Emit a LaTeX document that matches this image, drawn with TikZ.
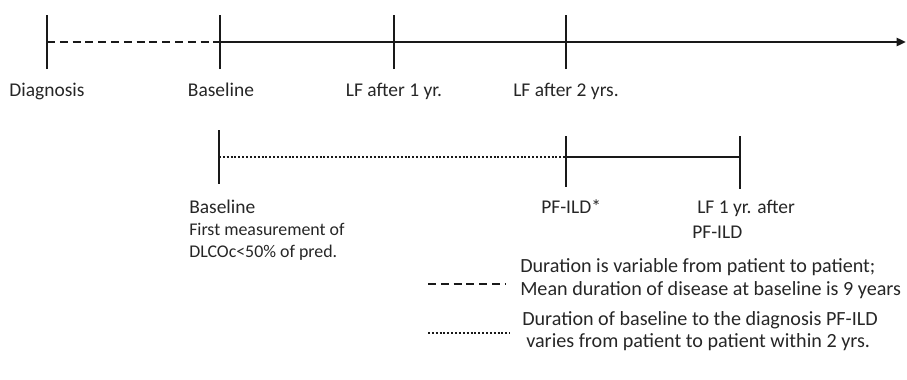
\documentclass[tikz,border=0pt]{standalone}
\usepackage{fontspec}
\setmainfont{Carlito}
\usetikzlibrary{arrows.meta}
\begin{document}
\begin{tikzpicture}[x=0.75pt,y=-0.75pt,
  axis/.style={line width=1.8pt,black!90},
  tick/.style={line width=2pt,black!90},
  dashline/.style={line width=1.8pt,black!90,dash pattern=on 6pt off 3.6pt},
  dotline/.style={line width=1.7pt,black!90,dash pattern=on 1.5pt off 1.4pt},
  lbl/.style={font=\fontsize{14.6}{16}\selectfont,text=black!85,inner sep=0pt,anchor=base},
  lbll/.style={lbl,anchor=base west},
  small/.style={font=\fontsize{13.4}{14}\selectfont,text=black!85,inner sep=0pt,anchor=base west},
  legend/.style={font=\fontsize{15.1}{16}\selectfont,text=black!85,inner sep=0pt,anchor=base west}]
\useasboundingbox (0,0) rectangle (907,379);

% upper timeline
\coordinate (d) at (47,42);
\coordinate (b) at (220,42);
\coordinate (f1) at (394,42);
\coordinate (f2) at (566,42);
\coordinate (end) at (906,42);
\draw[dashline] (d) -- (b);
\draw[axis,-{Triangle[length=7pt,width=6pt]}] (b) -- (end);
\foreach \p in {d,b,f1,f2}
  \draw[tick] ([yshift=-27*0.75pt]\p) -- ([yshift=27*0.75pt]\p);

\node[lbl] (ldiag) at (47,96) {Diagnosis};
\node[lbl] (lbase) at (221,96) {Baseline};
\node[lbl] (lf1) at (394,96) {LF after 1 yr.};
\node[lbl] (lf2) at (566,96) {LF after 2 yrs.};

% lower timeline
\coordinate (b2) at (219,157);
\coordinate (pf) at (566,157);
\coordinate (lfp) at (740,157);
\draw[dotline] (b2) -- (pf);
\draw[axis] (pf) -- (lfp);
\draw[tick] (219,130) -- (219,184);
\draw[tick] (566,136) -- (566,187);
\draw[tick] (740,136) -- (740,189);

\node[lbll] (lbase2) at (189,213) {Baseline};
\node[small] (lfirst) at (189,235) {First measurement of};
\node[small] (ldlco) at (189,257) {DLCOc<50\% of pred.};
\node[lbll] (lpf) at (541,213) {PF-ILD*};
\node[lbll] (llf) at (697,213) {LF 1 yr. after};
\node[lbll] (lpf2) at (692,238) {PF-ILD};

% key
\coordinate (k1a) at (428,284);
\coordinate (k1b) at (505,284);
\coordinate (k2a) at (428,333);
\coordinate (k2b) at (510,333);
\draw[dashline] (k1a) -- (k1b);
\draw[dotline] (k2a) -- (k2b);
\node[legend] (t1) at (520,272) {Duration is variable from patient to patient;};
\node[legend] (t2) at (520,295) {Mean duration of disease at baseline is 9 years};
\node[legend] (t3) at (522,325) {Duration of baseline to the diagnosis PF-ILD};
\node[legend] (t4) at (526,347) {varies from patient to patient within 2 yrs.};
\end{tikzpicture}
\end{document}
